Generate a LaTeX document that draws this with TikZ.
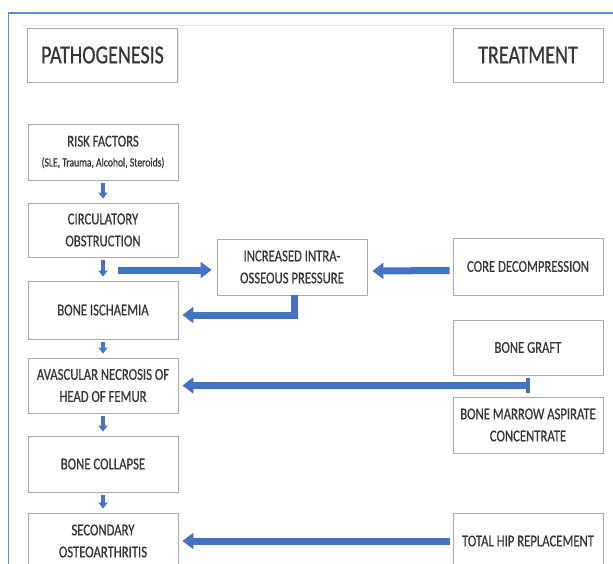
\documentclass[tikz,border=0pt]{standalone}
\usepackage{fontspec}
\setmainfont[FakeStretch=0.77,FakeBold=0.6]{Carlito}
\usetikzlibrary{arrows.meta,shadows}
\definecolor{arrowblue}{RGB}{68,114,196}
\definecolor{frameblue}{RGB}{91,141,214}
\definecolor{txtgray}{RGB}{55,55,55}
\definecolor{boxgray}{RGB}{170,170,170}
\tikzset{
  box/.style={draw=boxgray, line width=0.9pt, fill=white, minimum width=150pt, inner sep=2pt,
    align=center, text=txtgray, font=\fontsize{16.5}{22}\selectfont,
    drop shadow={opacity=0.18, shadow xshift=1pt, shadow yshift=-1pt}},
  headbox/.style={box, font=\fontsize{26}{30}\selectfont},
  thickarrow/.style={draw=arrowblue, line width=7pt, -{Triangle[length=11pt,width=16pt]}},
  smallarrow/.style={draw=arrowblue, line width=3.5pt, -{Triangle[length=6pt,width=9pt]}}
}
\begin{document}
\begin{tikzpicture}[x=1pt,y=-1pt]
\useasboundingbox (0,0) rectangle (613,563);
\clip (0,0) rectangle (613,563);
% frame
\draw[frameblue, line width=1.5pt] (8.5,570) -- (8.5,13) -- (620,13);
\draw[black!10, line width=1pt] (22,25) -- (605,25);
% headers
\node[headbox, minimum height=54pt] (path) at (102.5,55) {PATHOGENESIS};
\node[headbox, minimum height=54pt] (treat) at (528,55) {TREATMENT};
% pathogenesis column
\node[box, minimum height=56pt] (risk) at (103,152) {RISK FACTORS\\[-2pt]{\fontsize{12.5}{15}\selectfont (SLE, Trauma, Alcohol, Steroids)}};
\node[box, minimum height=54pt] (circ) at (103,230) {CIRCULATORY\\OBSTRUCTION};
\node[box, minimum height=58pt] (isch) at (103,310) {BONE ISCHAEMIA};
\node[box, minimum height=55pt] (avn) at (103,385.5) {AVASCULAR NECROSIS OF\\HEAD OF FEMUR};
\node[box, minimum height=56pt] (coll) at (103,464) {BONE COLLAPSE};
\node[box, minimum height=56pt] (sec) at (103,541) {SECONDARY\\OSTEOARTHRITIS};
% middle
\node[box, minimum height=56pt] (incr) at (292,267) {INCREASED INTRA-\\OSSEOUS PRESSURE};
% treatment column
\node[box, minimum height=57pt] (core) at (528,266.5) {CORE DECOMPRESSION};
\node[box, minimum height=55pt] (graft) at (528,347.5) {BONE GRAFT};
\node[box, minimum height=56pt] (marrow) at (528,425) {BONE MARROW ASPIRATE\\CONCENTRATE};
\node[box, minimum height=56pt] (hip) at (528,541) {TOTAL HIP REPLACEMENT};
% small down arrows
\foreach \a/\b in {risk/circ, circ/isch, isch/avn, avn/coll, coll/sec}{
  \draw[smallarrow, shorten <=3pt, shorten >=4pt] (\a.south) -- (\b.north);
}
% circulatory -> increased
\coordinate (c1) at (118,270);
\draw[thickarrow, shorten >=5pt] (c1) -- (c1 -| incr.west);
% increased -> ischaemia
\draw[thickarrow, line join=miter, shorten >=4pt] ([xshift=2pt]incr.south) |- ([yshift=-5pt]isch.east);
% core -> increased
\draw[thickarrow, shorten <=3pt, shorten >=5pt] ([yshift=-4pt]core.west) -- ([yshift=-4pt]incr.east);
% graft / marrow -> avn
\coordinate (tj) at (528,385.5);
\draw[draw=arrowblue, line width=4pt] (528,378) -- (528,393);
\draw[thickarrow, shorten >=4pt] (tj) -- (tj -| avn.east);
% hip -> secondary
\draw[thickarrow, shorten <=3pt, shorten >=4pt] (hip.west) -- (sec.east);
\end{tikzpicture}
\end{document}
